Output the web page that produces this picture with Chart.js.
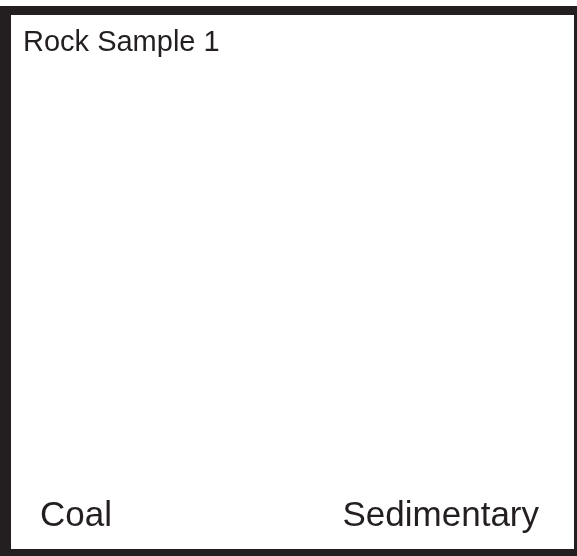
<!DOCTYPE html>
<html>
<head>
<meta charset="utf-8">
<script src="https://cdn.jsdelivr.net/npm/chart.js@4/dist/chart.umd.min.js"></script>
<style>
    body { margin: 0; background: #fff; }
    #frame {
        position: absolute;
        left: 0;
        top: 6px;
        width: 563px;
        height: 534px;
        border-style: solid;
        border-color: #231f20;
        border-width: 9px 3px 7px 11px;
    }
    canvas { display: block; }
</style>
</head>
<body>
<div id="frame"><canvas id="rockChart" width="563" height="534"></canvas></div>
<script>
const title = "Rock Sample 1";
const categories = ["Coal", "Sedimentary"];
const values = [0, 0];

document.addEventListener("DOMContentLoaded", function() {
    const ink = "#231f20";
    const ctx = document.getElementById('rockChart').getContext('2d');
    new Chart(ctx, {
        type: 'bar',
        data: {
            labels: categories,
            datasets: [{
                label: title,
                data: values,
                backgroundColor: ink,
                borderWidth: 0
            }]
        },
        options: {
            responsive: false,
            animation: false,
            layout: {
                padding: { left: 12, right: 35, top: 0, bottom: 12 }
            },
            plugins: {
                legend: { display: false },
                tooltip: { enabled: false },
                title: {
                    display: true,
                    text: title,
                    align: 'start',
                    color: ink,
                    font: { family: "'Liberation Sans', Arial, sans-serif", size: 29, weight: 'normal' },
                    padding: { top: 11, bottom: 0 }
                }
            },
            scales: {
                x: {
                    offset: false,
                    grid: { display: false, drawTicks: false },
                    border: { display: false },
                    ticks: {
                        align: 'inner',
                        padding: 0,
                        maxRotation: 0,
                        color: ink,
                        font: { family: "'Liberation Sans', Arial, sans-serif", size: 35 }
                    }
                },
                y: {
                    min: 0,
                    max: 100,
                    grid: { display: false, drawTicks: false },
                    border: { display: false },
                    ticks: { display: false },
                    afterFit: function(scale) { scale.width = 17; }
                }
            }
        }
    });
});
</script>
</body>
</html>
